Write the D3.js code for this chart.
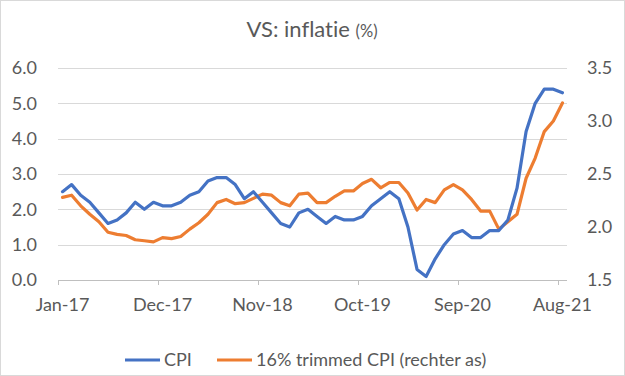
<!DOCTYPE html>
<html><head><meta charset="utf-8">
<script src="https://cdn.jsdelivr.net/npm/d3@7"></script>
<style>body{margin:0;background:#fff;} svg{display:block;font-family:Lato,"Open Sans",sans-serif;font-variant-ligatures:none;}</style>
</head><body>
<script>
const months = ["Jan","Feb","Mar","Apr","May","Jun","Jul","Aug","Sep","Oct","Nov","Dec"];
const categories = [];
for (let y = 17; y <= 21; y++) for (let m = 0; m < 12; m++) { if (y === 21 && m > 7) break; categories.push(months[m] + "-" + y); }
const cpi = [2.5,2.7,2.4,2.2,1.9,1.6,1.7,1.9,2.2,2.0,2.2,2.1,
             2.1,2.2,2.4,2.5,2.8,2.9,2.9,2.7,2.3,2.5,2.2,1.9,
             1.6,1.5,1.9,2.0,1.8,1.6,1.8,1.7,1.7,1.8,2.1,2.3,
             2.5,2.3,1.5,0.3,0.1,0.6,1.0,1.3,1.4,1.2,1.2,1.4,
             1.4,1.7,2.6,4.2,5.0,5.4,5.4,5.3];
const trimmed = [2.28,2.30,2.20,2.12,2.05,1.95,1.93,1.92,1.88,1.87,1.86,1.90,
                 1.89,1.91,1.98,2.04,2.12,2.23,2.26,2.22,2.23,2.27,2.31,2.30,
                 2.23,2.20,2.31,2.32,2.23,2.23,2.29,2.34,2.34,2.41,2.45,2.37,
                 2.42,2.42,2.32,2.16,2.26,2.23,2.35,2.40,2.35,2.26,2.15,2.15,
                 1.98,2.05,2.12,2.46,2.65,2.90,3.00,3.17];
const leftTicks = [0,1,2,3,4,5,6];
const rightTicks = [1.5,2.0,2.5,3.0,3.5];
const xTickLabels = ["Jan-17","Dec-17","Nov-18","Oct-19","Sep-20","Aug-21"];
const title = "VS: inflatie";
const titleSuffix = "(%)";
const seriesNames = ["CPI","16% trimmed CPI (rechter as)"];
const colors = ["#4472C4","#ED7D31"];

const W = 625, H = 376;
const plot = {left: 58, right: 567, top: 68, bottom: 280};
const FS = "18px";
const svg = d3.select("body").append("svg").attr("width", W).attr("height", H);
svg.append("rect").attr("x",0.5).attr("y",0.5).attr("width",W-1).attr("height",H-1).attr("fill","#fff").attr("stroke","#D9D9D9");

const x = d3.scaleBand().domain(categories).range([plot.left, plot.right]).padding(0);
const yL = d3.scaleLinear().domain([0,6]).range([plot.bottom, plot.top]);
const yR = d3.scaleLinear().domain([1.5,3.5]).range([plot.bottom, plot.top]);
const textColor = "#595959";

// gridlines
svg.append("g").selectAll("line").data(leftTicks.filter(d=>d>0)).join("line")
  .attr("x1",plot.left).attr("x2",plot.right).attr("y1",d=>Math.round(yL(d))+0.5).attr("y2",d=>Math.round(yL(d))+0.5)
  .attr("stroke","#D9D9D9").attr("stroke-width",1);

// left axis labels
const gL = svg.append("g").attr("transform",`translate(${plot.left-21},0)`)
  .call(d3.axisLeft(yL).tickValues(leftTicks).tickFormat(d3.format(".1f")).tickSize(0).tickPadding(0));
gL.select(".domain").remove();
gL.selectAll("text").attr("fill",textColor).style("font-size",FS).style("font-family","Lato, sans-serif");

// right axis labels
const gR = svg.append("g").attr("transform",`translate(${plot.right+20},0)`)
  .call(d3.axisRight(yR).tickValues(rightTicks).tickFormat(d3.format(".1f")).tickSize(0).tickPadding(0));
gR.select(".domain").remove();
gR.selectAll("text").attr("fill",textColor).style("font-size",FS).style("font-family","Lato, sans-serif");

// x axis
const xTickCats = categories.filter((d,i)=>i%11===0);
const gX = svg.append("g").attr("transform",`translate(0,${plot.bottom})`)
  .call(d3.axisBottom(x).tickValues(xTickCats).tickFormat((d,i)=>xTickLabels[i]).tickSize(0).tickPadding(18));
gX.select(".domain").attr("stroke","#BFBFBF").attr("d",`M${plot.left},0.5H${plot.right}`);
gX.selectAll("text").attr("fill",textColor).style("font-size",FS).style("font-family","Lato, sans-serif");
// tick marks at category boundaries
svg.append("g").selectAll("line").data(xTickCats).join("line")
  .attr("x1",d=>Math.round(x(d))+0.5).attr("x2",d=>Math.round(x(d))+0.5)
  .attr("y1",plot.bottom).attr("y2",plot.bottom+5).attr("stroke","#BFBFBF");

// lines
const cx = d => x(d) + x.bandwidth()/2;
const lineL = d3.line().x((d,i)=>cx(categories[i])).y(d=>yL(d));
const lineR = d3.line().x((d,i)=>cx(categories[i])).y(d=>yR(d));
svg.append("path").datum(trimmed).attr("d",lineR).attr("fill","none").attr("stroke",colors[1])
  .attr("stroke-width",3.2).attr("stroke-linejoin","round").attr("stroke-linecap","round");
svg.append("path").datum(cpi).attr("d",lineL).attr("fill","none").attr("stroke",colors[0])
  .attr("stroke-width",3.2).attr("stroke-linejoin","round").attr("stroke-linecap","round");

// title
const t = svg.append("text").attr("x",312).attr("y",37).attr("text-anchor","middle").attr("fill",textColor)
  .style("font-family","Lato, sans-serif");
t.append("tspan").style("font-size","22px").text(title + " ");
t.append("tspan").style("font-size","16.5px").text(titleSuffix);

// legend
const legend = [{x:125, name:seriesNames[0], c:colors[0]}, {x:217, name:seriesNames[1], c:colors[1]}];
const lg = svg.append("g");
legend.forEach(l=>{
  lg.append("line").attr("x1",l.x).attr("x2",l.x+35).attr("y1",360).attr("y2",360).attr("stroke",l.c).attr("stroke-width",3.2);
  lg.append("text").attr("x",l.x+39).attr("y",366).attr("fill",textColor).style("font-size",FS)
    .style("font-family","Lato, sans-serif").text(l.name);
});
</script>
</body></html>
